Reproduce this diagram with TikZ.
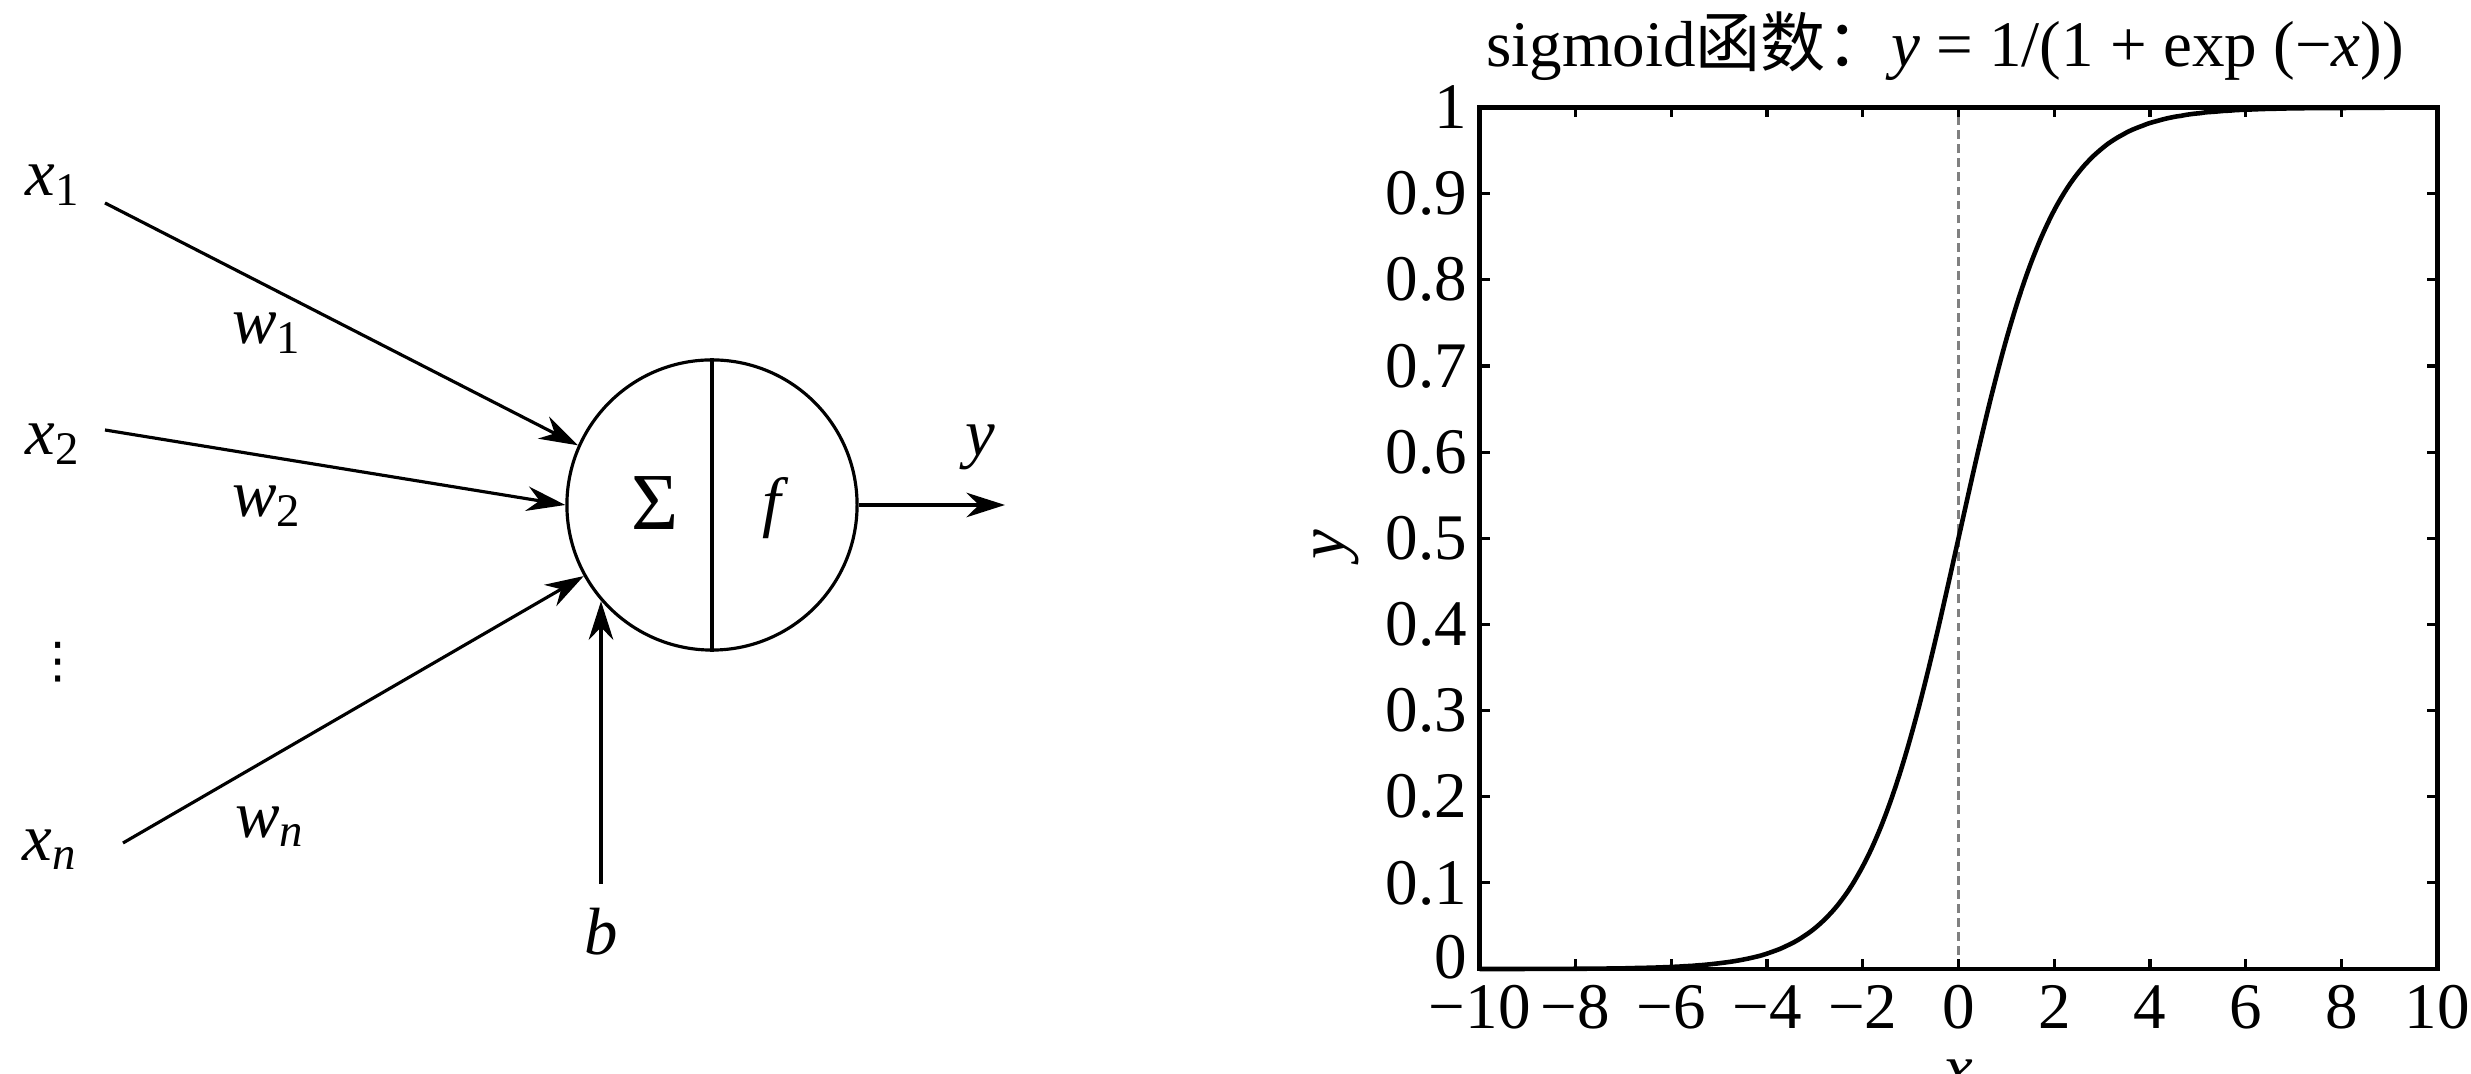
\documentclass[tikz,border=0pt]{standalone}
\usepackage{fontspec}
\setmainfont{Liberation Serif}
\newfontfamily\cjk{Noto Sans CJK SC}
\newfontfamily\symfont{DejaVu Sans}
\usepackage{tikz}
\usetikzlibrary{positioning,arrows.meta}

\begin{document}
\begin{tikzpicture}[x=0.01cm,y=-0.01cm,
          lbl/.style={font=\fontsize{19}{23}\selectfont\itshape,inner sep=1pt},
          ticklbl/.style={font=\fontsize{18.5}{22}\selectfont,inner sep=0pt},
          conn/.style={-{Stealth[length=11pt,width=7pt]},line width=0.9pt},
          neuronbox/.style={circle,draw,line width=0.9pt,minimum size=2.9cm,inner sep=0pt}]

        \useasboundingbox (0,0) rectangle (2471,1074);

        \node[neuronbox] (neuron) at (712,505) {};
        \draw[line width=0.9pt] (neuron.north) -- (neuron.south);
        \node[font=\fontsize{23}{26}\selectfont] (sum) at (655,503) {Σ};
        \node[lbl] (fun) at (772,508) {f};

        \node[lbl] (x1) at (53,185) {x\textsubscript{\upshape 1}};
        \node[lbl] (x2) at (53,444) {x\textsubscript{\upshape 2}};
        \node[font=\fontsize{14}{16}\selectfont\symfont] (dots) at (58,662) {⋮};
        \node[lbl] (xn) at (50,850) {x\textsubscript{n}};

        \node[lbl] (w1) at (267,333) {w\textsubscript{\upshape 1}};
        \node[lbl] (w2) at (267,506) {w\textsubscript{\upshape 2}};
        \node[lbl] (wn) at (270,827) {w\textsubscript{n}};

        \coordinate (in1) at (105,203);
        \coordinate (in2) at (105,430);
        \coordinate (inn) at (123,843);
        \draw[conn] (in1) -- (neuron.156);
        \draw[conn] (in2) -- (neuron.180);
        \draw[conn] (inn) -- (neuron.209);

        \node[lbl] (b) at (601,932) {b};
        \coordinate (bin) at (601,884);
        \draw[conn] (bin) -- (bin |- neuron.221);

        \coordinate (out) at (1005,505);
        \draw[conn] (neuron.east) -- (out);
        \node[lbl] (yout) at (980,447) {y};

        \begin{scope}[shift={(1958.5,969)},x=0.4785cm,y=8.61cm]
          \draw[gray,line width=0.6pt,dash pattern=on 2.5pt off 1.5pt] (0,0) -- (0,1);
          \draw[line width=1.3pt]
            plot[domain=-10:0,samples=100,smooth] (\x,{exp(\x)/(1+exp(\x))})
            -- plot[domain=0:10,samples=100,smooth] (\x,{1/(1+exp(-\x))});
          \foreach \u in {-8,-6,...,8} {
            \draw[line width=0.9pt] (\u,0) -- ++(0,0.1cm);
            \draw[line width=0.9pt] (\u,1) -- ++(0,-0.1cm);
          }
          \foreach \k in {1,...,9} {
            \draw[line width=0.9pt] (-10,\k/10) -- ++(0.1cm,0);
            \draw[line width=0.9pt] (10,\k/10) -- ++(-0.1cm,0);
            \node[ticklbl,left=0.12cm] at (-10,\k/10) {0.\k};
          }
          \node[ticklbl,left=0.12cm,yshift=0.12cm] at (-10,0) {0};
          \node[ticklbl,left=0.12cm] at (-10,1) {1};
          \foreach \u/\t in {-10/−10,-8/−8,-6/−6,-4/−4,-2/−2,0/0,2/2,4/4,6/6,8/8,10/10}
            \node[ticklbl,below=0.16cm] at (\u,0) {\t};
          \draw[line width=1.4pt] (-10,0) rectangle (10,1);

          \node[lbl,inner sep=0pt] (xlab) at (0,-0.123) {x};
          \node[lbl,rotate=90] (ylab) at (-12.99,0.492) {y};
          \node[font=\fontsize{18.5}{22}\selectfont,anchor=base] (title) at (-0.28,1.0476)
            {sigmoid{\cjk 函数：}\textit{y} = 1/(1 + exp (−\textit{x}))};
        \end{scope}
      \end{tikzpicture}
\end{document}
